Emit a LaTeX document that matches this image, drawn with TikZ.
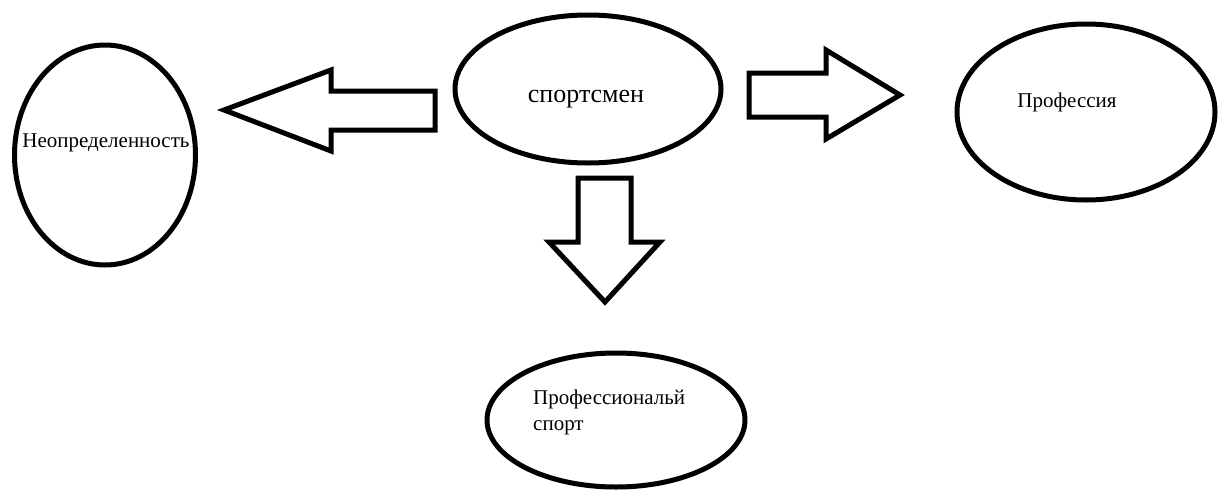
\documentclass[tikz,border=0pt]{standalone}
\usepackage{fontspec}
\setmainfont{Liberation Serif}
\usetikzlibrary{shapes.geometric}

\begin{document}
\begin{tikzpicture}[
    x=1pt, y=-1pt,
    oval/.style={draw, ellipse, line width=5pt, inner sep=0pt},
    blockarrow/.style={draw, line width=5pt, line join=miter},
    media/.style={font={\rmfamily\fontsize{21}{26}\selectfont}, inner sep=0pt, anchor=base}
]
    \useasboundingbox (0,0) rectangle (1219,490);

    % Draw ellipses
    \node[oval, minimum width=181pt, minimum height=220pt] (neo) at (105,155) {};
    \node[oval, minimum width=266pt, minimum height=148pt] (sport) at (588,89) {};
    \node[oval, minimum width=258pt, minimum height=176pt] (prof) at (1086,112) {};
    \node[oval, minimum width=258pt, minimum height=134pt] (profsport) at (616,420) {};

    % Draw labels
    \path[media] (106,147) node (neotext) {Неопределенность}
                 (586,102) node (sporttext) [font={\rmfamily\fontsize{26}{30}\selectfont}] {спортсмен}
                 (1067,107) node (proftext) {Профессия};
    \node[media, anchor=base west, align=left] (profsporttext) at (533,430) {Профессиональй\\спорт};

    % Draw block arrows
    \draw[blockarrow] (435,91) -- (331,91) -- (331,70) -- (224,110) -- (331,151) -- (331,130) -- (435,130) -- cycle;
    \draw[blockarrow] (749,73) -- (826,73) -- (826,50) -- (900,95) -- (826,139) -- (826,117) -- (749,117) -- cycle;
    \draw[blockarrow] (578,178) -- (631,178) -- (631,242) -- (660,242) -- (605,302) -- (549,242) -- (578,242) -- cycle;

\end{tikzpicture}
\end{document}
